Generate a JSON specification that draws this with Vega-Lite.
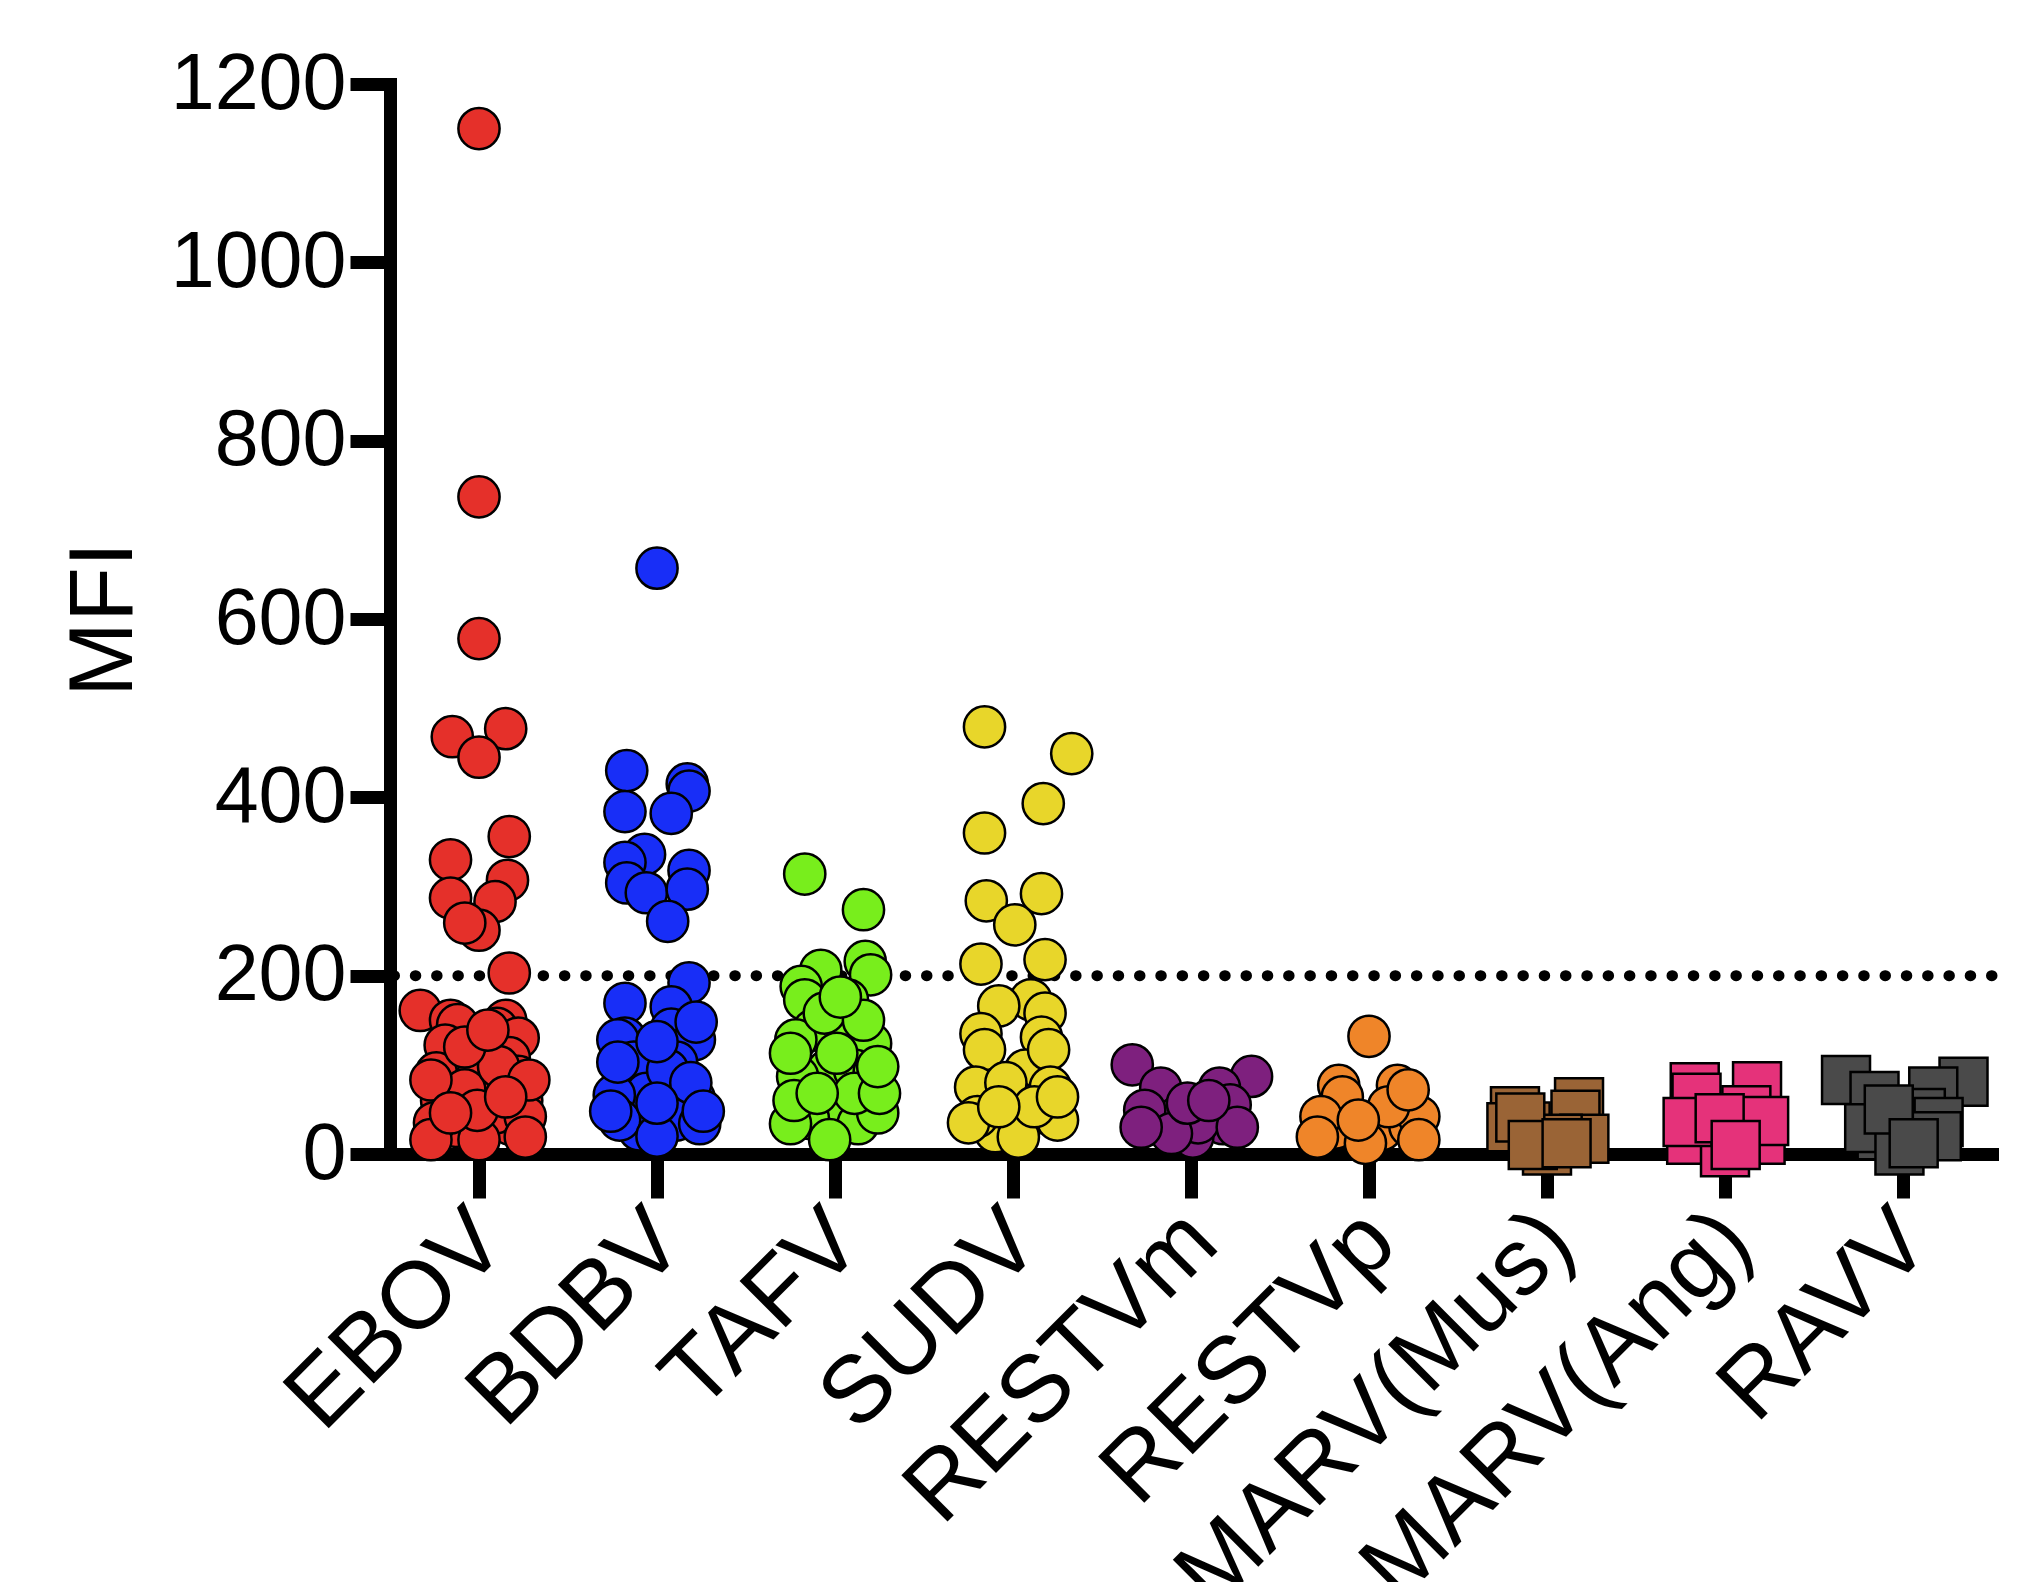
{
  "$schema": "https://vega.github.io/schema/vega-lite/v6.json",
  "width": 1602,
  "height": 1070,
  "autosize": {"type": "none"},
  "padding": {"left": 390, "top": 84, "right": 36, "bottom": 428},
  "background": "white",
  "config": {
    "view": {"stroke": null},
    "font": "Liberation Sans",
    "axis": {
      "grid": false, "zindex": 1,
      "domainColor": "black", "domainWidth": 13, "domainCap": "square",
      "tickColor": "black", "tickWidth": 13,
      "labelFont": "Liberation Sans", "labelColor": "black",
      "labelOverlap": false, "labelLimit": 2000, "labelBound": false, "labelFlush": false,
      "titleFont": "Liberation Sans", "titleFontWeight": "normal", "titleColor": "black"
    },
    "axisX": {
      "tickSize": 44, "labelFontSize": 95, "labelAngle": -45, "labelAlign": "right", "labelBaseline": "middle", "labelPadding": 28, "labelOffset": 10
    },
    "axisY": {
      "tickSize": 40, "labelFontSize": 79, "labelPadding": 4, "titleFontSize": 90, "titlePadding": 40, "format": "d"
    }
  },
  "datasets": {
    "mfi": [
      {"virus":"EBOV","MFI":1150,"jitter":0},{"virus":"EBOV","MFI":737,"jitter":0},{"virus":"EBOV","MFI":578,"jitter":0},
      {"virus":"EBOV","MFI":468,"jitter":-0.15},{"virus":"EBOV","MFI":477,"jitter":0.15},{"virus":"EBOV","MFI":445,"jitter":0},
      {"virus":"EBOV","MFI":356,"jitter":0.17},{"virus":"EBOV","MFI":330,"jitter":-0.16},{"virus":"EBOV","MFI":307,"jitter":0.16},
      {"virus":"EBOV","MFI":287,"jitter":-0.16},{"virus":"EBOV","MFI":283,"jitter":0.09},{"virus":"EBOV","MFI":251,"jitter":0},
      {"virus":"EBOV","MFI":259,"jitter":-0.08},{"virus":"EBOV","MFI":203,"jitter":0.17},{"virus":"EBOV","MFI":161,"jitter":-0.33},
      {"virus":"EBOV","MFI":150,"jitter":-0.16},{"virus":"EBOV","MFI":145,"jitter":-0.12},{"virus":"EBOV","MFI":150,"jitter":0.15},
      {"virus":"EBOV","MFI":141,"jitter":0.1},{"virus":"EBOV","MFI":122,"jitter":-0.19},{"virus":"EBOV","MFI":130,"jitter":0.22},
      {"virus":"EBOV","MFI":108,"jitter":0.17},{"virus":"EBOV","MFI":87,"jitter":-0.01},{"virus":"EBOV","MFI":91,"jitter":-0.24},
      {"virus":"EBOV","MFI":87,"jitter":0.22},{"virus":"EBOV","MFI":31,"jitter":-0.13},{"virus":"EBOV","MFI":33,"jitter":0.18},
      {"virus":"EBOV","MFI":46,"jitter":0.09},{"virus":"EBOV","MFI":60,"jitter":-0.21},{"virus":"EBOV","MFI":60,"jitter":0.24},
      {"virus":"EBOV","MFI":16,"jitter":0},{"virus":"EBOV","MFI":35,"jitter":-0.25},{"virus":"EBOV","MFI":42,"jitter":0.26},
      {"virus":"EBOV","MFI":72,"jitter":-0.08},{"virus":"EBOV","MFI":98,"jitter":0.11},{"virus":"EBOV","MFI":120,"jitter":-0.08},
      {"virus":"EBOV","MFI":139,"jitter":0.05},{"virus":"EBOV","MFI":83,"jitter":-0.27},{"virus":"EBOV","MFI":83,"jitter":0.28},
      {"virus":"EBOV","MFI":49,"jitter":-0.01},{"virus":"EBOV","MFI":19,"jitter":0.26},{"virus":"EBOV","MFI":16,"jitter":-0.27},
      {"virus":"EBOV","MFI":46,"jitter":-0.16},{"virus":"EBOV","MFI":64,"jitter":0.15},

      {"virus":"BDBV","MFI":657,"jitter":0},{"virus":"BDBV","MFI":430,"jitter":-0.17},{"virus":"BDBV","MFI":415,"jitter":0.17},
      {"virus":"BDBV","MFI":407,"jitter":0.18},{"virus":"BDBV","MFI":384,"jitter":-0.18},{"virus":"BDBV","MFI":382,"jitter":0.08},
      {"virus":"BDBV","MFI":336,"jitter":-0.07},{"virus":"BDBV","MFI":327,"jitter":-0.18},{"virus":"BDBV","MFI":318,"jitter":0.18},
      {"virus":"BDBV","MFI":304,"jitter":-0.17},{"virus":"BDBV","MFI":293,"jitter":-0.06},{"virus":"BDBV","MFI":297,"jitter":0.17},
      {"virus":"BDBV","MFI":261,"jitter":0.06},{"virus":"BDBV","MFI":192,"jitter":0.18},{"virus":"BDBV","MFI":169,"jitter":-0.18},
      {"virus":"BDBV","MFI":165,"jitter":0.08},{"virus":"BDBV","MFI":130,"jitter":-0.18},{"virus":"BDBV","MFI":140,"jitter":0.08},
      {"virus":"BDBV","MFI":128,"jitter":0.21},{"virus":"BDBV","MFI":128,"jitter":-0.22},{"virus":"BDBV","MFI":103,"jitter":-0.13},
      {"virus":"BDBV","MFI":103,"jitter":0.11},{"virus":"BDBV","MFI":68,"jitter":-0.06},{"virus":"BDBV","MFI":62,"jitter":0.21},
      {"virus":"BDBV","MFI":66,"jitter":-0.24},{"virus":"BDBV","MFI":27,"jitter":-0.1},{"virus":"BDBV","MFI":38,"jitter":0.11},
      {"virus":"BDBV","MFI":38,"jitter":-0.21},{"virus":"BDBV","MFI":34,"jitter":0.24},{"virus":"BDBV","MFI":20,"jitter":0},
      {"virus":"BDBV","MFI":94,"jitter":0.06},{"virus":"BDBV","MFI":126,"jitter":0},{"virus":"BDBV","MFI":148,"jitter":0.22},
      {"virus":"BDBV","MFI":103,"jitter":-0.22},{"virus":"BDBV","MFI":80,"jitter":0.19},{"virus":"BDBV","MFI":57,"jitter":0},
      {"virus":"BDBV","MFI":48,"jitter":-0.26},{"virus":"BDBV","MFI":48,"jitter":0.26},

      {"virus":"TAFV","MFI":314,"jitter":-0.17},{"virus":"TAFV","MFI":274,"jitter":0.16},{"virus":"TAFV","MFI":206,"jitter":-0.08},
      {"virus":"TAFV","MFI":216,"jitter":0.17},{"virus":"TAFV","MFI":201,"jitter":0.2},{"virus":"TAFV","MFI":188,"jitter":-0.19},
      {"virus":"TAFV","MFI":173,"jitter":-0.17},{"virus":"TAFV","MFI":173,"jitter":0.07},{"virus":"TAFV","MFI":139,"jitter":-0.12},
      {"virus":"TAFV","MFI":137,"jitter":0.08},{"virus":"TAFV","MFI":124,"jitter":0.2},{"virus":"TAFV","MFI":128,"jitter":-0.22},
      {"virus":"TAFV","MFI":94,"jitter":-0.04},{"virus":"TAFV","MFI":94,"jitter":0.11},{"virus":"TAFV","MFI":87,"jitter":-0.21},
      {"virus":"TAFV","MFI":91,"jitter":0.22},{"virus":"TAFV","MFI":53,"jitter":-0.04},{"virus":"TAFV","MFI":40,"jitter":-0.15},
      {"virus":"TAFV","MFI":34,"jitter":0.13},{"virus":"TAFV","MFI":16,"jitter":-0.03},{"virus":"TAFV","MFI":34,"jitter":-0.25},
      {"virus":"TAFV","MFI":46,"jitter":0.24},{"virus":"TAFV","MFI":68,"jitter":0.11},{"virus":"TAFV","MFI":60,"jitter":-0.23},
      {"virus":"TAFV","MFI":68,"jitter":0.25},{"virus":"TAFV","MFI":68,"jitter":-0.1},{"virus":"TAFV","MFI":113,"jitter":0.01},
      {"virus":"TAFV","MFI":98,"jitter":0.24},{"virus":"TAFV","MFI":113,"jitter":-0.25},{"virus":"TAFV","MFI":158,"jitter":-0.06},
      {"virus":"TAFV","MFI":150,"jitter":0.16},{"virus":"TAFV","MFI":176,"jitter":0.03},

      {"virus":"SUDV","MFI":479,"jitter":-0.16},{"virus":"SUDV","MFI":449,"jitter":0.33},{"virus":"SUDV","MFI":393,"jitter":0.17},
      {"virus":"SUDV","MFI":360,"jitter":-0.16},{"virus":"SUDV","MFI":292,"jitter":0.16},{"virus":"SUDV","MFI":284,"jitter":-0.15},
      {"virus":"SUDV","MFI":257,"jitter":0.01},{"virus":"SUDV","MFI":213,"jitter":-0.18},{"virus":"SUDV","MFI":218,"jitter":0.18},
      {"virus":"SUDV","MFI":173,"jitter":0.1},{"virus":"SUDV","MFI":166,"jitter":-0.08},{"virus":"SUDV","MFI":158,"jitter":0.18},
      {"virus":"SUDV","MFI":135,"jitter":-0.18},{"virus":"SUDV","MFI":117,"jitter":-0.16},{"virus":"SUDV","MFI":131,"jitter":0.16},
      {"virus":"SUDV","MFI":94,"jitter":0.07},{"virus":"SUDV","MFI":117,"jitter":0.2},{"virus":"SUDV","MFI":75,"jitter":-0.21},
      {"virus":"SUDV","MFI":75,"jitter":0.21},{"virus":"SUDV","MFI":46,"jitter":0.18},{"virus":"SUDV","MFI":25,"jitter":-0.1},
      {"virus":"SUDV","MFI":42,"jitter":-0.2},{"virus":"SUDV","MFI":57,"jitter":0.03},{"virus":"SUDV","MFI":80,"jitter":-0.04},
      {"virus":"SUDV","MFI":38,"jitter":0.25},{"virus":"SUDV","MFI":35,"jitter":-0.25},{"virus":"SUDV","MFI":19,"jitter":0.03},
      {"virus":"SUDV","MFI":53,"jitter":0.12},{"virus":"SUDV","MFI":53,"jitter":-0.08},{"virus":"SUDV","MFI":64,"jitter":0.25},

      {"virus":"RESTVm","MFI":100,"jitter":-0.33},{"virus":"RESTVm","MFI":87,"jitter":0.34},{"virus":"RESTVm","MFI":74,"jitter":-0.17},
      {"virus":"RESTVm","MFI":74,"jitter":0.16},{"virus":"RESTVm","MFI":34,"jitter":0.18},{"virus":"RESTVm","MFI":19,"jitter":0.01},
      {"virus":"RESTVm","MFI":38,"jitter":-0.21},{"virus":"RESTVm","MFI":42,"jitter":-0.07},{"virus":"RESTVm","MFI":55,"jitter":0.22},
      {"virus":"RESTVm","MFI":49,"jitter":-0.26},{"virus":"RESTVm","MFI":35,"jitter":0.04},{"virus":"RESTVm","MFI":30,"jitter":0.26},
      {"virus":"RESTVm","MFI":23,"jitter":-0.11},{"virus":"RESTVm","MFI":57,"jitter":-0.02},{"virus":"RESTVm","MFI":60,"jitter":0.1},
      {"virus":"RESTVm","MFI":30,"jitter":-0.28},

      {"virus":"RESTVp","MFI":132,"jitter":0},{"virus":"RESTVp","MFI":77,"jitter":-0.17},{"virus":"RESTVp","MFI":77,"jitter":0.16},
      {"virus":"RESTVp","MFI":64,"jitter":-0.15},{"virus":"RESTVp","MFI":27,"jitter":0.07},{"virus":"RESTVp","MFI":29,"jitter":-0.19},
      {"virus":"RESTVp","MFI":31,"jitter":0.23},{"virus":"RESTVp","MFI":42,"jitter":0.28},{"virus":"RESTVp","MFI":42,"jitter":-0.27},
      {"virus":"RESTVp","MFI":12,"jitter":-0.02},{"virus":"RESTVp","MFI":53,"jitter":0.11},{"virus":"RESTVp","MFI":19,"jitter":-0.29},
      {"virus":"RESTVp","MFI":72,"jitter":0.22},{"virus":"RESTVp","MFI":38,"jitter":-0.06},{"virus":"RESTVp","MFI":16,"jitter":0.28},

      {"virus":"MARV(Mus)","MFI":58,"jitter":0.18},{"virus":"MARV(Mus)","MFI":48,"jitter":-0.18},{"virus":"MARV(Mus)","MFI":44,"jitter":0.16},
      {"virus":"MARV(Mus)","MFI":31,"jitter":-0.12},{"virus":"MARV(Mus)","MFI":17,"jitter":0.21},{"virus":"MARV(Mus)","MFI":17,"jitter":0.06},
      {"virus":"MARV(Mus)","MFI":30,"jitter":-0.2},{"virus":"MARV(Mus)","MFI":4,"jitter":0},{"virus":"MARV(Mus)","MFI":41,"jitter":-0.15},
      {"virus":"MARV(Mus)","MFI":10,"jitter":-0.08},{"virus":"MARV(Mus)","MFI":12,"jitter":0.11},

      {"virus":"MARV(Ang)","MFI":75,"jitter":-0.17},{"virus":"MARV(Ang)","MFI":76,"jitter":0.18},{"virus":"MARV(Ang)","MFI":63,"jitter":-0.16},
      {"virus":"MARV(Ang)","MFI":49,"jitter":0.12},{"virus":"MARV(Ang)","MFI":16,"jitter":-0.19},{"virus":"MARV(Ang)","MFI":16,"jitter":0.2},
      {"virus":"MARV(Ang)","MFI":2,"jitter":0},{"virus":"MARV(Ang)","MFI":36,"jitter":-0.21},{"virus":"MARV(Ang)","MFI":37,"jitter":0.22},
      {"virus":"MARV(Ang)","MFI":40,"jitter":-0.03},{"virus":"MARV(Ang)","MFI":10,"jitter":0.06},

      {"virus":"RAVV","MFI":83,"jitter":-0.32},{"virus":"RAVV","MFI":81,"jitter":0.34},{"virus":"RAVV","MFI":65,"jitter":-0.16},
      {"virus":"RAVV","MFI":70,"jitter":0.17},{"virus":"RAVV","MFI":46,"jitter":0.1},{"virus":"RAVV","MFI":21,"jitter":-0.12},
      {"virus":"RAVV","MFI":36,"jitter":0.2},{"virus":"RAVV","MFI":29,"jitter":-0.19},{"virus":"RAVV","MFI":4,"jitter":-0.02},
      {"virus":"RAVV","MFI":20,"jitter":0.19},{"virus":"RAVV","MFI":50,"jitter":-0.08},{"virus":"RAVV","MFI":12,"jitter":0.06}
    ],
    "threshold": [{"MFI": 200}]
  },
  "layer": [
    {
      "data": {"name": "threshold"},
      "mark": {"type": "rule", "color": "black", "strokeWidth": 11, "strokeDash": [0.5, 20.8], "strokeCap": "round"},
      "encoding": {
        "y": {"field": "MFI", "type": "quantitative", "title": "MFI"}
      }
    },
    {
      "data": {"name": "mfi"},
      "transform": [{"filter": {"field": "virus", "oneOf": ["EBOV","BDBV","TAFV","SUDV","RESTVm","RESTVp"]}}],
      "mark": {"type": "point", "shape": "circle", "filled": true, "size": 1700, "stroke": "black", "strokeWidth": 2.5, "opacity": 1},
      "encoding": {
        "x": {
          "field": "virus", "type": "nominal", "title": null,
          "scale": {"type": "point", "padding": 0.5, "domain": ["EBOV","BDBV","TAFV","SUDV","RESTVm","RESTVp","MARV(Mus)","MARV(Ang)","RAVV"]}
        },
        "xOffset": {"field": "jitter", "type": "quantitative", "scale": {"domain": [-0.5, 0.5], "range": [-89, 89]}},
        "y": {
          "field": "MFI", "type": "quantitative", "title": "MFI",
          "scale": {"domain": [0, 1200], "nice": false},
          "axis": {"values": [0, 200, 400, 600, 800, 1000, 1200]}
        },
        "color": {
          "field": "virus", "type": "nominal", "legend": null,
          "scale": {
            "domain": ["EBOV","BDBV","TAFV","SUDV","RESTVm","RESTVp","MARV(Mus)","MARV(Ang)","RAVV"],
            "range": ["#e5302a","#182ef7","#78ee1c","#e8d62a","#7e207e","#ef8529","#9a6436","#e5327a","#4a4a4a"]
          }
        }
      }
    },
    {
      "data": {"name": "mfi"},
      "transform": [{"filter": {"field": "virus", "oneOf": ["MARV(Mus)","MARV(Ang)","RAVV"]}}],
      "mark": {"type": "point", "shape": "square", "filled": true, "size": 2300, "stroke": "black", "strokeWidth": 2.5, "opacity": 1},
      "encoding": {
        "x": {"field": "virus", "type": "nominal", "title": null},
        "xOffset": {"field": "jitter", "type": "quantitative", "scale": {"domain": [-0.5, 0.5], "range": [-89, 89]}},
        "y": {"field": "MFI", "type": "quantitative", "title": "MFI"},
        "color": {"field": "virus", "type": "nominal", "legend": null}
      }
    }
  ]
}
